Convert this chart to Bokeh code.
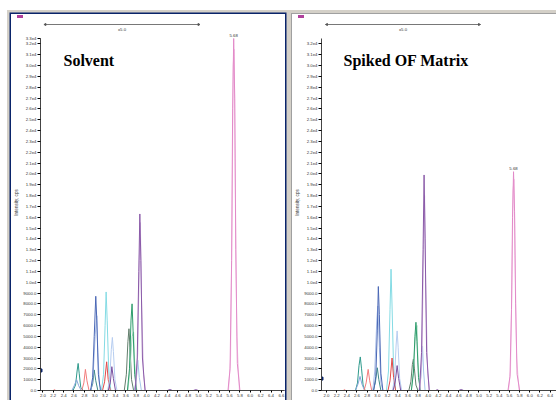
from bokeh.plotting import figure
from bokeh.layouts import row
from bokeh.models import (Label, Arrow, NormalHead, FixedTicker, Range1d,
                          ColumnDataSource, NumeralTickFormatter)
from bokeh.embed import file_html
from bokeh.resources import INLINE

# ---------------- data ----------------
x_ticks = [2.0, 2.2, 2.4, 2.6, 2.8, 3.0, 3.2, 3.4, 3.6, 3.8, 4.0, 4.2, 4.4,
           4.6, 4.8, 5.0, 5.2, 5.4, 5.6, 5.8, 6.0, 6.2, 6.4, 6.6]
y_ticks = [0, 1000, 2000, 3000, 4000, 5000, 6000, 7000, 8000, 9000, 10000,
           11000, 12000, 13000, 14000, 15000, 16000, 17000, 18000, 19000, 20000,
           21000, 22000, 23000, 24000, 25000, 26000, 27000, 28000, 29000, 30000,
           31000, 32000]
y_tick_labels = ["0.0", "1000.0", "2000.0", "3000.0", "4000.0", "5000.0",
                 "6000.0", "7000.0", "8000.0", "9000.0", "1.0e4", "1.1e4",
                 "1.2e4", "1.3e4", "1.4e4", "1.5e4", "1.6e4", "1.7e4", "1.8e4",
                 "1.9e4", "2.0e4", "2.1e4", "2.2e4", "2.3e4", "2.4e4", "2.5e4",
                 "2.6e4", "2.7e4", "2.8e4", "2.9e4", "3.0e4", "3.1e4", "3.2e4"]
y_axis_top = 32500

# Solvent chromatogram traces (time, min / intensity, cps)
solvent_colors = ["#2f9a8c", "#86a4da", "#f27c7c", "#3f8a88", "#a9bee8",
                  "#4a67b5", "#84dbe4", "#e04a4a", "#b6cdf0", "#7a50a0",
                  "#627e6c", "#a9dcc2", "#2e9c6c", "#a6c6ea", "#d6bde2",
                  "#8a5aa8", "#f4c8e6", "#e28ac8"]
solvent_times = [
    [1.95, 2.50, 2.58, 2.63, 2.66, 2.68, 2.70, 2.73, 2.78, 6.70],
    [1.95, 2.56, 2.61, 2.65, 2.69, 2.74, 6.70],
    [1.95, 2.20, 2.22, 2.25, 2.75, 2.79, 2.82, 2.85, 2.89, 6.70],
    [1.95, 2.92, 2.96, 2.99, 3.02, 3.06, 6.70],
    [1.95, 2.93, 2.97, 3.01, 3.04, 3.06, 3.09, 3.13, 6.70],
    [1.95, 2.92, 2.96, 2.99, 3.02, 3.04, 3.07, 3.11, 6.70],
    [1.95, 3.13, 3.17, 3.20, 3.22, 3.24, 3.27, 3.31, 6.70],
    [1.95, 3.15, 3.19, 3.23, 3.26, 3.30, 6.70],
    [1.95, 3.25, 3.29, 3.32, 3.34, 3.36, 3.39, 3.43, 6.70],
    [1.95, 3.26, 3.30, 3.33, 3.36, 3.40, 4.40, 4.45, 4.50, 6.70],
    [1.95, 3.57, 3.61, 3.64, 3.66, 3.68, 3.71, 3.75, 6.70],
    [1.95, 3.64, 3.68, 3.72, 3.75, 3.77, 3.81, 6.70],
    [1.95, 3.63, 3.67, 3.70, 3.72, 3.74, 3.77, 3.81, 6.70],
    [1.95, 3.76, 3.80, 3.83, 3.86, 3.90, 6.70],
    [1.95, 3.79, 3.83, 3.86, 3.88, 3.90, 3.94, 3.98, 6.70],
    [1.95, 3.78, 3.82, 3.85, 3.87, 3.89, 3.92, 3.97, 4.90, 4.95, 5.00, 6.70],
    [1.95, 5.58, 5.62, 5.65, 5.67, 5.69, 5.71, 5.74, 5.79, 6.70],
    [1.95, 5.57, 5.61, 5.64, 5.66, 5.68, 5.70, 5.72, 5.75, 5.80, 6.70],
]
solvent_counts = [
    [0, 0, 0, 500, 1800, 2500, 1600, 300, 0, 0],
    [0, 0, 500, 1000, 450, 0, 0],
    [0, 0, 80, 0, 0, 700, 1950, 900, 0, 0],
    [0, 0, 600, 1900, 900, 0, 0],
    [0, 0, 1500, 5200, 6900, 3500, 600, 0, 0],
    [0, 0, 1200, 5000, 8700, 6500, 1500, 0, 0],
    [0, 0, 1500, 6000, 9100, 6500, 1800, 0, 0],
    [0, 0, 800, 2650, 1000, 0, 0],
    [0, 0, 1200, 3800, 4900, 3600, 1000, 0, 0],
    [0, 0, 700, 2200, 1100, 0, 0, 90, 0, 0],
    [0, 0, 1500, 4500, 5700, 4000, 1000, 0, 0],
    [0, 0, 2000, 5000, 5400, 2500, 0, 0],
    [0, 0, 2000, 6500, 8000, 5500, 1500, 0, 0],
    [0, 0, 900, 2800, 1200, 0, 0],
    [0, 0, 3500, 12000, 15500, 9000, 1500, 0, 0],
    [0, 0, 3000, 11000, 16300, 12000, 3000, 0, 0, 80, 0, 0],
    [0, 0, 3000, 16000, 30000, 31500, 20000, 5000, 0, 0],
    [0, 0, 2000, 12000, 26000, 32500, 27000, 13000, 2500, 0, 0],
]

# Spiked OF Matrix chromatogram traces
spiked_colors = solvent_colors
spiked_times = [
    [1.90, 2.50, 2.57, 2.61, 2.64, 2.665, 2.69, 2.72, 2.76, 6.60],
    [1.90, 2.57, 2.62, 2.66, 2.70, 2.75, 6.60],
    [1.90, 2.33, 2.35, 2.38, 2.74, 2.78, 2.82, 2.85, 2.89, 6.60],
    [1.90, 2.92, 2.96, 3.00, 3.03, 3.07, 6.60],
    [1.90, 2.91, 2.95, 2.99, 3.01, 3.04, 3.07, 3.11, 6.60],
    [1.90, 2.93, 2.97, 3.00, 3.02, 3.04, 3.07, 3.11, 6.60],
    [1.90, 3.18, 3.22, 3.25, 3.27, 3.29, 3.32, 3.36, 6.60],
    [1.90, 3.21, 3.25, 3.29, 3.32, 3.36, 6.60],
    [1.90, 3.30, 3.34, 3.37, 3.39, 3.41, 3.44, 3.48, 6.60],
    [1.90, 3.31, 3.35, 3.39, 3.42, 3.46, 4.60, 4.65, 4.70, 6.60],
    [1.90, 3.62, 3.66, 3.69, 3.71, 3.73, 3.76, 3.80, 6.60],
    [1.90, 3.67, 3.71, 3.75, 3.78, 3.80, 3.84, 6.60],
    [1.90, 3.67, 3.71, 3.74, 3.76, 3.78, 3.81, 3.85, 6.60],
    [1.90, 3.82, 3.86, 3.89, 3.91, 3.94, 3.98, 6.60],
    [1.90, 3.84, 3.88, 3.91, 3.93, 3.95, 3.99, 4.03, 6.60],
    [1.90, 3.83, 3.87, 3.90, 3.92, 3.94, 3.97, 4.02, 4.15, 4.18, 4.21, 6.60],
    [1.90, 5.58, 5.62, 5.65, 5.67, 5.69, 5.71, 5.74, 5.79, 6.60],
    [1.90, 5.57, 5.61, 5.64, 5.66, 5.68, 5.70, 5.72, 5.75, 5.80, 6.60],
]
spiked_counts = [
    [0, 0, 0, 700, 2300, 3100, 2000, 500, 0, 0],
    [0, 0, 600, 1300, 550, 0, 0],
    [0, 0, 80, 0, 0, 700, 1950, 900, 0, 0],
    [0, 0, 700, 2100, 1000, 0, 0],
    [0, 0, 1800, 6500, 7800, 4000, 700, 0, 0],
    [0, 0, 1300, 5500, 9600, 7000, 1600, 0, 0],
    [0, 0, 1800, 7500, 11200, 7800, 2000, 0, 0],
    [0, 0, 900, 3000, 1200, 0, 0],
    [0, 0, 1300, 4200, 5500, 4000, 1100, 0, 0],
    [0, 0, 700, 2300, 1100, 0, 0, 90, 0, 0],
    [0, 0, 800, 2400, 2900, 2000, 500, 0, 0],
    [0, 0, 1800, 5200, 6000, 2600, 0, 0],
    [0, 0, 1600, 5000, 6300, 4500, 1200, 0, 0],
    [0, 0, 1300, 4100, 1800, 0, 0],
    [0, 0, 3500, 13500, 18000, 10000, 1600, 0, 0],
    [0, 0, 3500, 13000, 19900, 14000, 3500, 0, 0, 80, 0, 0],
    [0, 0, 1800, 10000, 18500, 19500, 12500, 3000, 0, 0],
    [0, 0, 1300, 7500, 16000, 20200, 16500, 8000, 1500, 0, 0],
]

peak_label_rt = [5.68, 5.68]
peak_label_height = [32500, 20200]
panel_titles = ["Solvent", "Spiked OF Matrix"]
zoom_factor_text = "x5.0"
zoom_bar_start = [2.02, 1.98]
zoom_bar_end = [5.03, 5.03]
cursor_marker_level = [1850, 1100]

FONT = "Liberation Sans"
NAVY = "#0a246a"
TXT = "#333333"
FIG_H = 386
B_BOTTOM = 10
PX_PER_CPS = 352.0 / 32500          # vertical scale of the picture
FRAME_TOP = (FIG_H - B_BOTTOM) / PX_PER_CPS   # frame reaches window top


def make_panel(width, margin, x_start, x_end, times, counts, colors,
               title, label_rt, label_h, bar_start, bar_end, marker_level,
               extra_top_tick, border_left, border_right, ring):
    icon = "linear-gradient(#b0409c,#b0409c) 6px 1px / 6px 3px no-repeat"
    p = figure(width=width, height=FIG_H, x_range=Range1d(x_start, x_end),
               y_range=Range1d(0, FRAME_TOP), output_backend="svg",
               toolbar_location=None, min_border_left=border_left,
               min_border_right=border_right, min_border_top=0,
               min_border_bottom=B_BOTTOM, margin=margin,
               styles={"box-shadow": ring, "background": icon + ", white"})
    p.grid.visible = False
    p.outline_line_color = None
    p.background_fill_color = "white"
    p.border_fill_color = None

    src = ColumnDataSource(dict(xs=times, ys=counts, color=colors))
    p.multi_line("xs", "ys", color="color", line_width=1, source=src)

    # x axis
    xa = p.xaxis[0]
    xa.ticker = FixedTicker(ticks=x_ticks)
    xa.formatter = NumeralTickFormatter(format="0.0")
    xa.major_label_text_font_size = "4.3px"
    xa.major_label_text_font = FONT
    xa.major_label_text_color = TXT
    xa.major_tick_out = 2
    xa.major_tick_in = 0
    xa.minor_tick_line_color = None
    xa.major_label_standoff = 1
    xa.axis_line_color = "#444444"

    # y axis (line limited to the intensity scale)
    ya = p.yaxis[0]
    ticks = list(y_ticks)
    overrides = {t: s for t, s in zip(y_ticks, y_tick_labels)}
    if extra_top_tick is not None:
        ticks.append(extra_top_tick[0])
        overrides[extra_top_tick[0]] = extra_top_tick[1]
    ya.ticker = FixedTicker(ticks=ticks)
    ya.bounds = (0, y_axis_top)
    ya.major_label_overrides = overrides
    ya.major_label_text_font_size = "4.3px"
    ya.major_label_text_font = FONT
    ya.major_label_text_color = TXT
    ya.major_tick_out = 3
    ya.major_tick_in = 0
    ya.minor_tick_line_color = None
    ya.major_label_standoff = 1
    ya.axis_line_color = "#444444"
    ya.axis_label = "Intensity, cps"
    ya.axis_label_text_font_size = "4.6px"
    ya.axis_label_text_font = FONT
    ya.axis_label_text_font_style = "normal"
    ya.axis_label_text_color = TXT
    ya.axis_label_standoff = 1

    # title inside panel
    p.add_layout(Label(x=border_left + 24, y=46, x_units="canvas",
                       y_units="canvas", text=title,
                       text_font="Liberation Serif", text_font_style="bold",
                       text_font_size="16px", text_color="black",
                       text_baseline="alphabetic"))
    # apex label
    p.add_layout(Label(x=label_rt, y=label_h, y_offset=2,
                       text="%.2f" % label_rt, text_align="center",
                       text_baseline="bottom", text_font=FONT,
                       text_font_size="4.3px", text_color=TXT))
    # zoom bar above the trace area
    bar_y = FRAME_TOP - 10 / PX_PER_CPS
    p.add_layout(Arrow(x_start=bar_start, x_end=bar_end, y_start=bar_y,
                       y_end=bar_y, line_color="#555555", line_width=0.8,
                       start=NormalHead(size=2, line_color="#555555",
                                        fill_color="#555555"),
                       end=NormalHead(size=2, line_color="#555555",
                                      fill_color="#555555")))
    p.add_layout(Label(x=(bar_start + bar_end) / 2, y=bar_y, y_offset=-2,
                       text=zoom_factor_text, text_align="center",
                       text_baseline="top", text_font=FONT,
                       text_font_size="4.3px", text_color=TXT))
    # cursor marker on y axis
    p.scatter([x_start], [marker_level], marker="square", size=3,
              color=NAVY)
    return p


left = make_panel(274, (14, 3, 0, 11), 1.954, 6.66, solvent_times,
                  solvent_counts, solvent_colors, panel_titles[0],
                  peak_label_rt[0], peak_label_height[0], zoom_bar_start[0],
                  zoom_bar_end[0], cursor_marker_level[0], (32500, "3.3e4"),
                  28, 1, "0 0 0 1.5px #0a246a, 0 0 0 4px #d4d0c8")
right = make_panel(264, (14, 0, 0, 4), 1.902, 6.525, spiked_times,
                   spiked_counts, spiked_colors, panel_titles[1],
                   peak_label_rt[1], peak_label_height[1], zoom_bar_start[1],
                   zoom_bar_end[1], cursor_marker_level[1], None, 27, 0,
                   "0 0 0 1px #a0a0a0, 0 0 0 4px #d4d0c8")

layout = row(left, right)
open("out.html", "w").write(file_html(layout, INLINE))
